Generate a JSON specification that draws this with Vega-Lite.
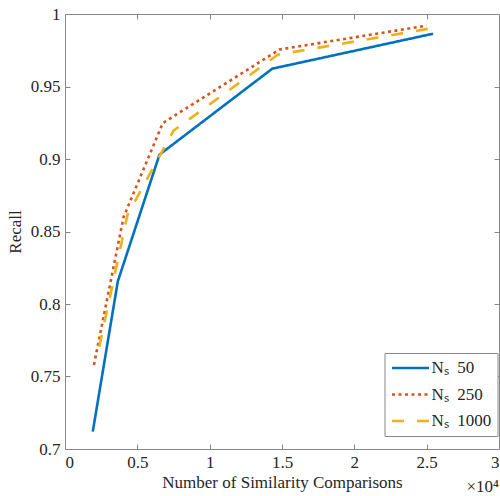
{
  "$schema": "https://vega.github.io/schema/vega-lite/v6.json",
  "autosize": {"type": "none"},
  "width": 434,
  "height": 435,
  "padding": {"left": 65, "top": 14, "right": 1, "bottom": 47},
  "background": "white",
  "title": {"text": "×10⁴", "orient": "bottom", "anchor": "end", "frame": "group", "font": "Liberation Serif", "fontSize": 17, "fontWeight": "normal", "color": "#262626", "offset": -11, "dy": 0},
  "config": {
    "font": "Liberation Serif",
    "view": {"stroke": "#888", "strokeWidth": 1},
    "axis": {
      "grid": false,
      "domain": false,
      "tickColor": "#888",
      "tickSize": -5,
      "tickWidth": 1,
      "labelFont": "Liberation Serif",
      "labelFontSize": 17,
      "labelColor": "#262626",
      "titleFont": "Liberation Serif",
      "titleFontSize": 17,
      "titleFontWeight": "normal",
      "titleColor": "#262626"
    },
    "legend": {
      "orient": "none",
      "legendX": 319.5,
      "legendY": 339,
      "symbolType": "stroke",
      "symbolSize": 1369,
      "symbolStrokeWidth": 2.5,
      "clipHeight": 18,
      "rowPadding": 8.5,
      "labelFont": "Liberation Serif",
      "labelFontSize": 17,
      "labelColor": "#262626",
      "labelOffset": 1,
      "fillColor": "white",
      "strokeColor": "#888",
      "padding": 6
    }
  },
  "data": {
    "values": [
      {"series": "50", "comparisons": 0.192, "recall": 0.712},
      {"series": "50", "comparisons": 0.365, "recall": 0.8156},
      {"series": "50", "comparisons": 0.653, "recall": 0.903},
      {"series": "50", "comparisons": 1.433, "recall": 0.9623},
      {"series": "50", "comparisons": 2.544, "recall": 0.9864},
      {"series": "250", "comparisons": 0.2, "recall": 0.758},
      {"series": "250", "comparisons": 0.405, "recall": 0.86},
      {"series": "250", "comparisons": 0.676, "recall": 0.9248},
      {"series": "250", "comparisons": 1.483, "recall": 0.9755},
      {"series": "250", "comparisons": 2.5, "recall": 0.992},
      {"series": "1000", "comparisons": 0.237, "recall": 0.7705},
      {"series": "1000", "comparisons": 0.432, "recall": 0.8615},
      {"series": "1000", "comparisons": 0.75, "recall": 0.9195},
      {"series": "1000", "comparisons": 1.47, "recall": 0.9719},
      {"series": "1000", "comparisons": 2.54, "recall": 0.9903}
    ]
  },
  "layer": [
    {
      "mark": {"type": "line", "strokeWidth": 2.6, "clip": true},
      "encoding": {
        "x": {"field": "comparisons", "type": "quantitative", "scale": {"domain": [0, 3], "nice": false}, "axis": {"values": [0, 0.5, 1, 1.5, 2, 2.5, 3], "format": "~g", "labelPadding": 10, "title": "Number of Similarity Comparisons", "titlePadding": 4}},
        "y": {"field": "recall", "type": "quantitative", "scale": {"domain": [0.7, 1], "nice": false, "zero": false}, "axis": {"values": [0.7, 0.75, 0.8, 0.85, 0.9, 0.95, 1], "format": ".2~f", "labelPadding": 10, "title": "Recall", "titlePadding": 6}},
        "color": {"field": "series", "type": "nominal", "sort": ["50", "250", "1000"], "scale": {"domain": ["50", "250", "1000"], "range": ["#0072BD", "#D95319", "#EDB120"]}, "legend": {"title": null, "labelExpr": "'Nₛ\u00a0 ' + datum.label"}},
        "strokeDash": {"field": "series", "type": "nominal", "sort": ["50", "250", "1000"], "scale": {"domain": ["50", "250", "1000"], "range": [[1, 0], [3, 3.5], [12, 13]]}, "legend": {"title": null, "labelExpr": "'Nₛ\u00a0 ' + datum.label"}}
      }
    },
    {
      "mark": {"type": "point", "opacity": 0},
      "encoding": {
        "x": {"field": "comparisons", "type": "quantitative", "axis": {"orient": "top", "values": [0, 0.5, 1, 1.5, 2, 2.5, 3], "labels": false, "title": null}},
        "y": {"field": "recall", "type": "quantitative", "axis": {"orient": "right", "values": [0.7, 0.75, 0.8, 0.85, 0.9, 0.95, 1], "labels": false, "title": null}}
      }
    }
  ],
  "resolve": {"axis": {"x": "independent", "y": "independent"}}
}
